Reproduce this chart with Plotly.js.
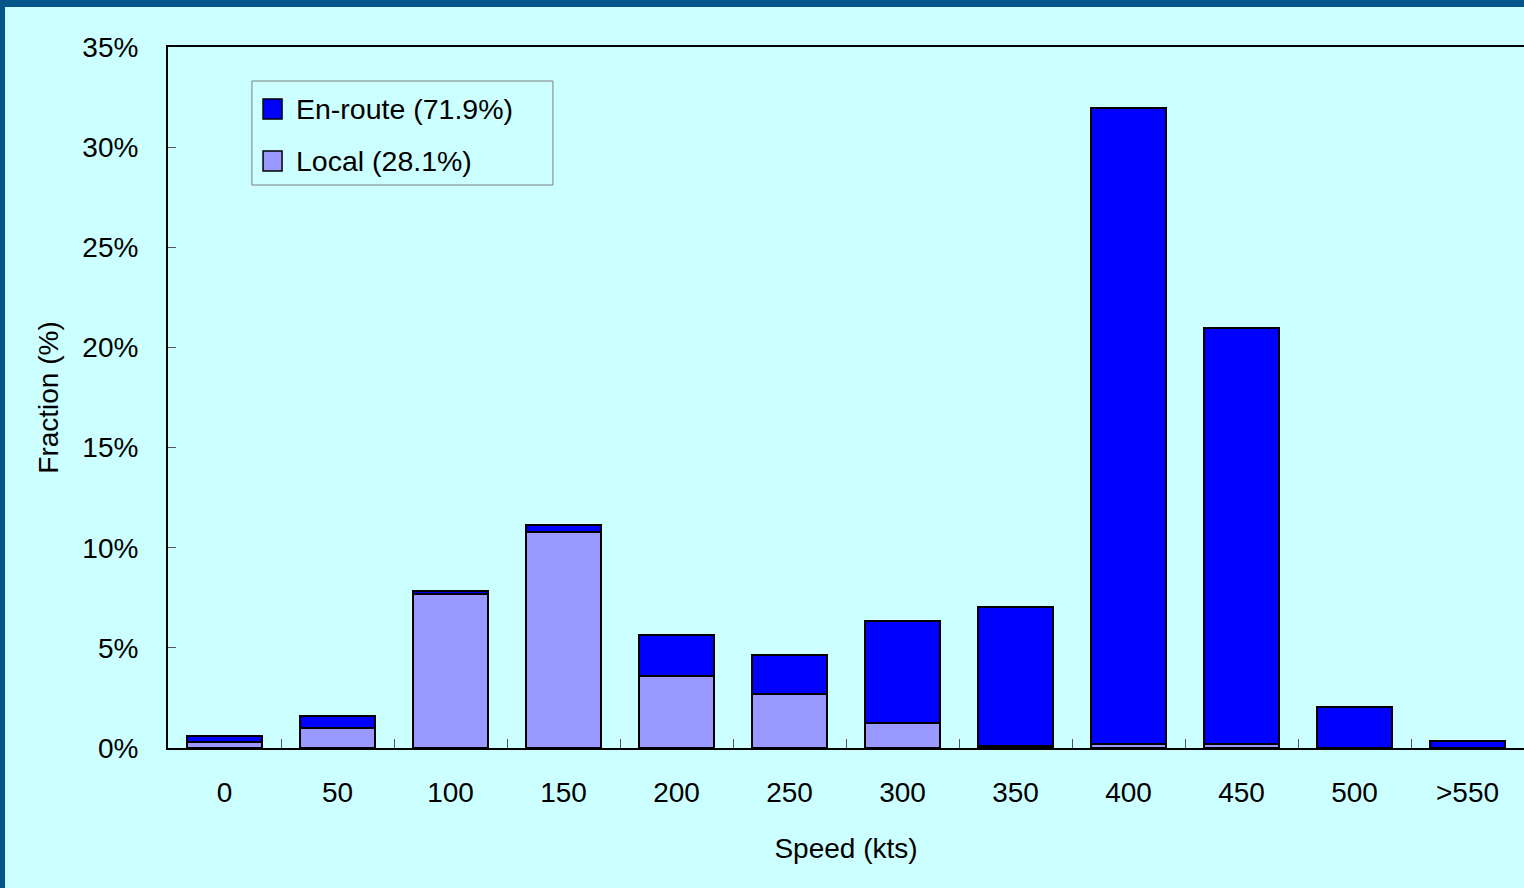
<!DOCTYPE html>
<html>
<head>
<meta charset="utf-8">
<script src="https://cdn.plot.ly/plotly-3.0.1.min.js"></script>
<style>
  html, body { margin: 0; padding: 0; width: 1524px; height: 888px; overflow: hidden; background: #04568A; }
  #chart { position: absolute; left: 5px; top: 7px; width: 1519px; height: 881px; }
</style>
</head>
<body>
<div id="chart"></div>
<script>
// Speed bins (kts)
const speedBins = ["0", "50", "100", "150", "200", "250", "300", "350", "400", "450", "500", ">550"];
// Fraction of flights per bin (%), stacked: local at the bottom, en-route on top
const localPct   = [0.32, 1.00, 7.68, 10.76, 3.61, 2.70, 1.23, 0.08, 0.20, 0.20, 0.00, 0.00];
const enroutePct = [0.26, 0.58, 0.15, 0.35, 2.05, 1.96, 5.10, 6.95, 31.75, 20.75, 2.06, 0.36];
const seriesNames = ["En-route (71.9%)", "Local (28.1%)"];
const seriesColors = ["#0000FF", "#9999FF"];
const yTicks = [0, 5, 10, 15, 20, 25, 30, 35];

const FONT = "Liberation Sans, Arial, sans-serif";
const barLine = { color: "#000000", width: 2 };

const traces = [
  { type: "bar", x: speedBins, y: localPct, name: seriesNames[1],
    marker: { color: seriesColors[1], line: barLine }, showlegend: false, hoverinfo: "x+y" },
  { type: "bar", x: speedBins, y: enroutePct, name: seriesNames[0],
    marker: { color: seriesColors[0], line: barLine }, showlegend: false, hoverinfo: "x+y" }
];

// Legend drawn as a framed box with square swatches
const legendBox = { x0: 0.0619, x1: 0.2839, y0: 0.8031, y1: 0.9515 };
const swatch = { x0: 0.0701, x1: 0.0841, h: 0.0285 };
const rowsY = [0.9116, 0.8374];
const textX = 0.0930;

const shapes = [
  { type: "rect", xref: "paper", yref: "paper",
    x0: legendBox.x0, x1: legendBox.x1, y0: legendBox.y0, y1: legendBox.y1,
    line: { color: "#7F7F7F", width: 1 }, fillcolor: "rgba(0,0,0,0)" }
];
const annotations = [];
seriesNames.forEach((name, i) => {
  shapes.push({ type: "rect", xref: "paper", yref: "paper",
    x0: swatch.x0, x1: swatch.x1, y0: rowsY[i] - swatch.h / 2, y1: rowsY[i] + swatch.h / 2,
    line: { color: "#000000", width: 1.5 }, fillcolor: seriesColors[i] });
  annotations.push({ xref: "paper", yref: "paper", x: textX, y: rowsY[i],
    xanchor: "left", yanchor: "middle", showarrow: false, text: name,
    font: { family: FONT, size: 28.5, color: "#000000" } });
});

const layout = {
  width: 1519, height: 881,
  margin: { l: 163, r: 0, t: 40, b: 140 },
  paper_bgcolor: "#CCFFFF", plot_bgcolor: "#CCFFFF",
  barmode: "stack", bargap: 0.336,
  font: { family: FONT, size: 28, color: "#000000" },
  showlegend: false,
  xaxis: {
    type: "category", range: [-0.5, 11.5], fixedrange: true,
    showline: true, linecolor: "#000000", linewidth: 2, mirror: true,
    showgrid: false, zeroline: false,
    ticks: "inside", tickson: "boundaries", ticklen: 9, tickwidth: 1, tickcolor: "#555555",
    ticklabelstandoff: 18,
    tickfont: { family: FONT, size: 28, color: "#000000" },
    title: { text: "Speed (kts)", font: { family: FONT, size: 28, color: "#000000" }, standoff: 32 }
  },
  yaxis: {
    range: [0, 35], fixedrange: true,
    tickvals: yTicks, ticktext: yTicks.map(v => v + "%"),
    showline: true, linecolor: "#000000", linewidth: 2,
    showgrid: false, zeroline: false,
    ticks: "inside", ticklen: 8, tickwidth: 1, tickcolor: "#555555",
    ticklabelstandoff: 22,
    tickfont: { family: FONT, size: 28, color: "#000000" },
    title: { text: "Fraction (%)", font: { family: FONT, size: 28, color: "#000000" }, standoff: 16 }
  },
  shapes: shapes,
  annotations: annotations
};

Plotly.newPlot("chart", traces, layout, { displayModeBar: false, staticPlot: true });
</script>
</body>
</html>
